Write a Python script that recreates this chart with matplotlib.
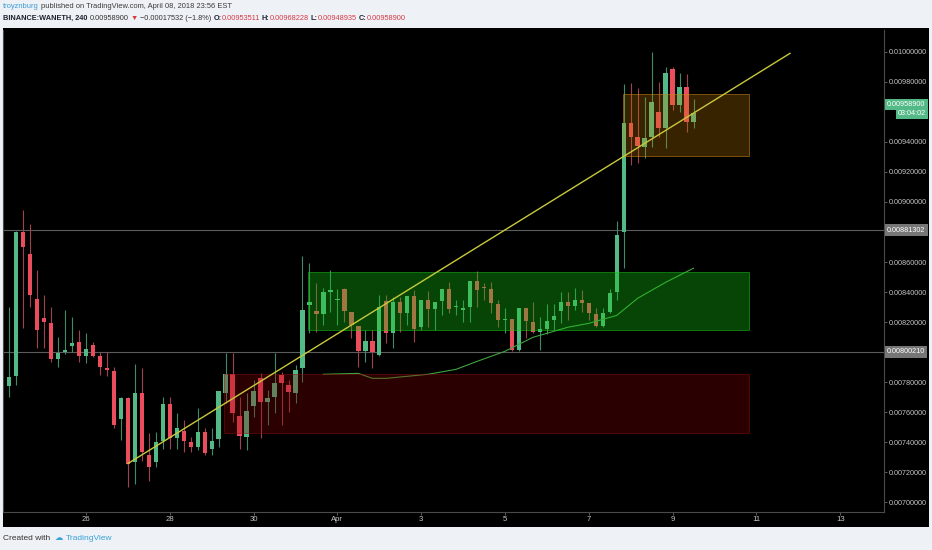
import numpy as np
import pandas as pd
import matplotlib
matplotlib.use("Agg")
import matplotlib.pyplot as plt
import matplotlib.dates as mdates
from matplotlib.patches import Rectangle

W, H = 932, 550
FONT = ["Liberation Sans", "DejaVu Sans"]
plt.rcParams["font.family"] = FONT

# BINANCE:WANETH, 240 min candles (price in ETH)
opens = [
    0.007772, 0.007839, 0.008799, 0.008652, 0.008352, 0.008226, 0.008192, 0.007952, 0.007999, 0.008039,
    0.008066, 0.007972, 0.008046, 0.007972, 0.007892, 0.007872, 0.007553, 0.007693, 0.007266, 0.007726,
    0.007319, 0.007266, 0.007406, 0.007653, 0.007426, 0.007473, 0.007399, 0.007366, 0.007466, 0.007353,
    0.007419, 0.007726, 0.007853, 0.007573, 0.007433, 0.007639, 0.007826, 0.007666, 0.007699, 0.007846,
    0.007779, 0.007726, 0.007892, 0.008312, 0.008272, 0.008252, 0.008399, 0.008345, 0.008419, 0.008265,
    0.008172, 0.008006, 0.008072, 0.007979, 0.008339, 0.008126, 0.008332, 0.008259, 0.008372, 0.008166,
    0.008345, 0.008285, 0.008339, 0.008419, 0.008299, 0.008279, 0.008299, 0.008472, 0.008432, 0.008419,
    0.008319, 0.008212, 0.008219, 0.008012, 0.008292, 0.008199, 0.008132, 0.008152, 0.008212, 0.008272,
    0.008332, 0.008305, 0.008345, 0.008325, 0.008252, 0.008172, 0.008265, 0.008399, 0.008799, 0.009525,
    0.009431, 0.009365, 0.009431, 0.009598, 0.009491, 0.009884, 0.009644, 0.009764, 0.00953511,
]
highs = [
    0.008299, 0.008805, 0.008945, 0.008852, 0.008545, 0.008379, 0.008299, 0.008099, 0.008279, 0.008232,
    0.008145, 0.008126, 0.008066, 0.007999, 0.007999, 0.007899, 0.007699, 0.007699, 0.007919, 0.007892,
    0.007459, 0.007466, 0.007699, 0.007699, 0.007593, 0.007546, 0.007433, 0.007626, 0.007493, 0.007493,
    0.007745, 0.007992, 0.007992, 0.007699, 0.007726, 0.007812, 0.007859, 0.007746, 0.007992, 0.007866,
    0.007812, 0.007912, 0.008639, 0.008592, 0.008459, 0.008425, 0.008545, 0.008419, 0.008425, 0.008270,
    0.008175, 0.008145, 0.008145, 0.008379, 0.008379, 0.008365, 0.008365, 0.008375, 0.008412, 0.008350,
    0.008405, 0.008335, 0.008422, 0.008465, 0.008345, 0.008345, 0.008475, 0.008539, 0.008459, 0.008465,
    0.008345, 0.008292, 0.008222, 0.008295, 0.008295, 0.008332, 0.008232, 0.008319, 0.008319, 0.008399,
    0.008399, 0.008425, 0.008412, 0.008328, 0.008292, 0.008292, 0.008419, 0.008872, 0.009784, 0.009791,
    0.009758, 0.009698, 0.009998, 0.009798, 0.009898, 0.009898, 0.009858, 0.009851, 0.00968228,
]
lows = [
    0.007699, 0.007779, 0.008159, 0.008299, 0.008026, 0.008026, 0.007932, 0.007899, 0.007985, 0.007999,
    0.007932, 0.007926, 0.007966, 0.007846, 0.007839, 0.007493, 0.007413, 0.007100, 0.007126, 0.007279,
    0.007146, 0.007233, 0.007359, 0.007359, 0.007359, 0.007333, 0.007339, 0.007346, 0.007313, 0.007313,
    0.007366, 0.007659, 0.007533, 0.007359, 0.007346, 0.007566, 0.007426, 0.007513, 0.007593, 0.007513,
    0.007599, 0.007659, 0.007799, 0.008126, 0.008132, 0.008179, 0.008265, 0.008179, 0.008199, 0.008092,
    0.007899, 0.007932, 0.007892, 0.007975, 0.008059, 0.008026, 0.008132, 0.008179, 0.008066, 0.008145,
    0.008166, 0.008145, 0.008245, 0.008259, 0.008245, 0.008199, 0.008199, 0.008299, 0.008345, 0.008259,
    0.008166, 0.008126, 0.008008, 0.008008, 0.008092, 0.008126, 0.008012, 0.008119, 0.008145, 0.008192,
    0.008212, 0.008279, 0.008265, 0.008212, 0.008166, 0.008166, 0.008259, 0.008345, 0.008559, 0.009245,
    0.009258, 0.009291, 0.009365, 0.009431, 0.009358, 0.009611, 0.009598, 0.009465, 0.00948935,
]
closes = [
    0.007832, 0.008799, 0.008699, 0.008379, 0.008145, 0.008199, 0.007952, 0.007992, 0.008012, 0.008059,
    0.007972, 0.008019, 0.007972, 0.007899, 0.007879, 0.007513, 0.007693, 0.007259, 0.007726, 0.007333,
    0.007239, 0.007399, 0.007653, 0.007426, 0.007493, 0.007406, 0.007366, 0.007466, 0.007326, 0.007406,
    0.007739, 0.007853, 0.007593, 0.007439, 0.007606, 0.007739, 0.007666, 0.007693, 0.007793, 0.007793,
    0.007733, 0.007879, 0.008279, 0.008332, 0.008252, 0.008399, 0.008412, 0.008352, 0.008272, 0.008179,
    0.008006, 0.008072, 0.007999, 0.008299, 0.008126, 0.008332, 0.008259, 0.008372, 0.008152, 0.008345,
    0.008285, 0.008332, 0.008419, 0.008285, 0.008305, 0.008292, 0.008472, 0.008412, 0.008425, 0.008325,
    0.008212, 0.008219, 0.008012, 0.008292, 0.008206, 0.008132, 0.008152, 0.008206, 0.008239, 0.008332,
    0.008305, 0.008345, 0.008325, 0.008259, 0.008172, 0.008259, 0.008392, 0.008779, 0.009525, 0.009431,
    0.009371, 0.009425, 0.009664, 0.009491, 0.009858, 0.009644, 0.009764, 0.009531, 0.00958900,
]
times = pd.date_range("2018-03-24 04:00", periods=len(closes), freq="4h")

# moving average (green line), sampled at candle indices
ma_idx = [45, 50, 52, 54, 60, 64, 67, 71, 75, 80, 83, 87, 90, 94, 98]
ma_vals = [0.007853, 0.007859, 0.007826, 0.007826, 0.007853, 0.007886, 0.007939, 0.008006,
           0.008099, 0.008166, 0.008192, 0.008245, 0.008359, 0.008465, 0.008559]

# drawings
trend_t = ["2018-03-27 00:00", "2018-04-11 19:15"]
trend_p = [0.007259, 0.009989]
box_start = ["2018-03-29 07:00", "2018-03-31 07:00", "2018-04-07 19:30"]
box_end = ["2018-04-10 19:30", "2018-04-10 19:30", "2018-04-10 19:30"]
box_low = [0.007461, 0.008150, 0.009305]
box_high = [0.007857, 0.008534, 0.009718]
hline_levels = [0.00881302, 0.00800210]
last_price = 0.00958900

# price scale ticks (0.0080, 0.0088 and 0.0096 sit under the coloured labels)
price_ticks = [0.0070, 0.0072, 0.0074, 0.0076, 0.0078, 0.0082, 0.0084, 0.0086,
               0.0090, 0.0092, 0.0094, 0.0098, 0.0100]
tick_days = ["2018-03-26", "2018-03-28", "2018-03-30", "2018-04-01", "2018-04-03",
             "2018-04-05", "2018-04-07", "2018-04-09", "2018-04-11", "2018-04-13"]
tick_labels = ["26", "28", "30", "Apr", "3", "5", "7", "9", "11", "13"]

UP, DOWN = "#53b987", "#eb4d5c"
box_face = [(0.55, 0.0, 0.0, 0.30), (0.08, 0.78, 0.08, 0.35), (0.78, 0.50, 0.0, 0.28)]
box_edge = [(0.55, 0.05, 0.05, 0.5), (0.1, 0.8, 0.1, 0.5), (0.8, 0.52, 0.1, 0.55)]

fig = plt.figure(figsize=(W / 100, H / 100), dpi=100)
fig.patch.set_facecolor("#eef1f6")
panel = Rectangle((3 / W, 23 / H), 926 / W, 499 / H, transform=fig.transFigure,
                  fc="black", ec="none", zorder=-10)
fig.patches.append(panel)
ax = fig.add_axes([3 / W, 38 / H, 881 / W, 482 / H])
ax.set_zorder(1)
ax.set_facecolor("black")

x = mdates.date2num(times.to_pydatetime())
o = np.array(opens)
c = np.array(closes)
up = c >= o
body_col = np.where(up, UP, DOWN)
wick_col = np.where(up, "#3f8a67", "#a0414d")

ax.vlines(x, lows, highs, colors=wick_col, linewidth=0.8, zorder=2)
ax.bar(x, np.maximum(np.abs(c - o), 0.000004), bottom=np.minimum(o, c), width=0.105,
       color=body_col, linewidth=0, zorder=3)

ax.plot(x[ma_idx], ma_vals, color="#3fa33f", linewidth=0.8, zorder=3.5)

for lv in hline_levels:
    ax.axhline(lv, color="#5c5c5c", linewidth=0.8, zorder=1)

for i in range(len(box_low)):
    x0 = mdates.date2num(pd.Timestamp(box_start[i]).to_pydatetime())
    x1 = mdates.date2num(pd.Timestamp(box_end[i]).to_pydatetime())
    ax.add_patch(Rectangle((x0, box_low[i]), x1 - x0, box_high[i] - box_low[i],
                           fc=box_face[i], ec=box_edge[i], lw=0.7, zorder=4))

tx = mdates.date2num(pd.to_datetime(trend_t).to_pydatetime())
ax.plot(tx, trend_p, color="#c9c93c", linewidth=1.0, zorder=5)

ref = mdates.date2num(pd.Timestamp("2018-03-26").to_pydatetime())
ax.set_xlim(ref - 83 / 41.9, ref + 798 / 41.9)
ax.set_ylim(0.0069364, 0.0101444)

ax.set_xticks(mdates.date2num(pd.to_datetime(tick_days).to_pydatetime()))
ax.set_xticklabels(tick_labels)
ax.set_yticks(price_ticks)
ax.yaxis.set_major_formatter(matplotlib.ticker.FormatStrFormatter("%.8f"))
ax.yaxis.tick_right()
ax.tick_params(axis="y", labelsize=5.2, colors="#6a6a6a", labelcolor="#c4c4c4", length=2.2, width=0.6, pad=1.2)
ax.tick_params(axis="x", labelsize=5.6, colors="#6a6a6a", labelcolor="#c4c4c4", length=2.0, width=0.6, pad=1.2)
for s in ("right", "bottom", "left"):
    ax.spines[s].set_color("#4a4a4a")
    ax.spines[s].set_linewidth(0.8)
ax.spines["top"].set_visible(False)

# price scale labels
lab = dict(xycoords=("axes fraction", "data"), textcoords="offset pixels", fontsize=5.2,
           color="white", va="center", annotation_clip=False, zorder=10)
for lv in hline_levels:
    ax.annotate("%.8f" % lv, xy=(1.0, lv), xytext=(3, 0), ha="left",
                bbox=dict(boxstyle="square,pad=0.3", fc="#767676", ec="none"), **lab)
ax.annotate("%.8f" % last_price, xy=(1.0, last_price), xytext=(3, 9), ha="left",
            bbox=dict(boxstyle="square,pad=0.3", fc=UP, ec="none"), **lab)
ax.annotate("03:04:02", xy=(1.0, last_price), xytext=(42, 0), ha="right",
            bbox=dict(boxstyle="square,pad=0.3", fc=UP, ec="none"), **lab)

# header and footer text
renderer = fig.canvas.get_renderer()


def write_row(parts, x0, y0, size):
    xp = x0
    for s, col, w, gap in parts:
        t = fig.text(xp / W, 1 - y0 / H, s, color=col, fontsize=size, fontweight=w,
                     ha="left", va="center")
        xp += t.get_window_extent(renderer=renderer).width + gap


RED = "#d63a45"
DARK = "#1e222d"
write_row([("troyznburg", "#3d9bd6", "normal", 2),
           ("published on TradingView.com, April 08, 2018 23:56 EST", "#3a3a3a", "normal", 0)],
          3, 7, 5.4)
write_row([("BINANCE:WANETH, 240", DARK, "bold", 2.5),
           ("0.00958900", "#333333", "normal", 2),
           ("\u25bc", RED, "normal", 2),
           ("\u22120.00017532 (\u22121.8%)", "#333333", "normal", 2),
           ("O:", DARK, "bold", 0), ("0.00953511", RED, "normal", 2),
           ("H:", DARK, "bold", 0), ("0.00968228", RED, "normal", 2),
           ("L:", DARK, "bold", 0), ("0.00948935", RED, "normal", 2),
           ("C:", DARK, "bold", 0), ("0.00958900", RED, "normal", 0)],
          3, 18.5, 5.3)
write_row([("Created with", "#333333", "normal", 4),
           ("\u2601", "#3aa1d9", "normal", 3),
           ("TradingView", "#3aa1d9", "normal", 0)],
          3, 538, 6.0)

fig.savefig("out.png", dpi=100, facecolor=fig.get_facecolor())
